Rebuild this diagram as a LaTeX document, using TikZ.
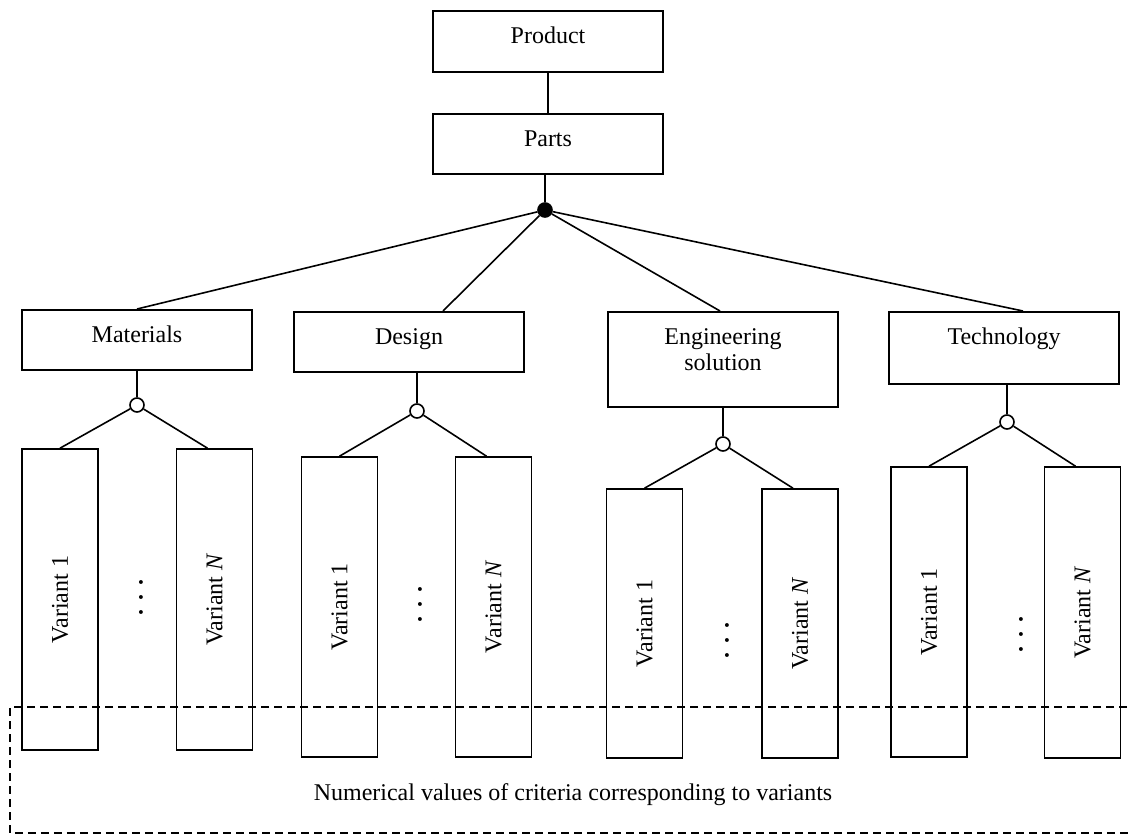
\documentclass[tikz,border=0pt]{standalone}
\usepackage{fontspec}
\setmainfont{Liberation Serif}
\usetikzlibrary{calc}

\begin{document}
\begin{tikzpicture}[
    x=0.5pt, y=-0.5pt, font=\fontsize{12}{13}\selectfont,
    blk/.style={draw, line width=0.8pt, anchor=north, minimum width=115pt,
                inner ysep=0pt, text height=16.5pt, text depth=13.5pt,
                align=center},
    var/.style={draw, line width=0.8pt, rotate=90, minimum height=38pt,
                inner sep=0pt},
    hub/.style={circle, draw, line width=0.8pt, fill=black, inner sep=0pt,
                minimum size=7pt},
    alt/.style={circle, draw, line width=0.8pt, fill=white, inner sep=0pt,
                minimum size=7pt},
    dots/.style={rotate=90, inner sep=0pt, font=\fontsize{12}{13}\selectfont\bfseries},
    lnk/.style={line width=0.8pt},
    crit/.style={dash pattern=on 4pt off 2.5pt, line width=0.7pt},
]

\useasboundingbox (0,0) rectangle (1130,835);

% ===========================================================================
% Product -> parts -> criteria groups
% ===========================================================================
\node[blk, text depth=14pt] (product) at (548,10) {Product};
\node[blk] (parts) at (548,113) {Parts};
\node[hub] (hub) at (545,210) {};

\node[blk] (mat) at (137,309) {Materials};
\node[blk] (des) at (409,311) {Design};
\node[blk, text height=29.5pt, text depth=18pt] (eng) at (723,311)
      {Engineering\\solution};
\node[blk, text depth=19.5pt] (tec) at (1004,311) {Technology};

\draw[lnk] (product.south) -- (parts.north);
\draw[lnk] (hub) -- (hub |- parts.south);
\draw[lnk] (hub) -- (mat.north);
\draw[lnk] (hub) -- ([xshift=17pt]des.north);
\draw[lnk] (hub) -- ([xshift=-1.5pt]eng.north);
\draw[lnk] (hub) -- ([xshift=9.5pt]tec.north);

% ----- alternatives of each group -----
\node[alt] (mc) at (137,405) {};
\node[alt] (dc) at (417,411) {};
\node[alt] (ec) at (723,444) {};
\node[alt] (tc) at (1007,422) {};

\draw[lnk] (mc) -- (mc |- mat.south);
\draw[lnk] (dc) -- (dc |- des.south);
\draw[lnk] (ec) -- (ec |- eng.south);
\draw[lnk] (tc) -- (tc |- tec.south);

% ===========================================================================
% Variants (rotated boxes: .east is the top edge)
% ===========================================================================
\node[var, minimum width=150.5pt] (m1) at (60,599.5) {Variant 1};
\node[var, minimum width=150.5pt] (mN) at (214.5,599.5) {Variant \textit{N}};
\node[dots] (md) at (141,597) {.\hspace{4.5pt}.\hspace{4.5pt}.};

\node[var, minimum width=150pt] (d1) at (339.5,607) {Variant 1};
\node[var, minimum width=150pt] (dN) at (493.5,607) {Variant \textit{N}};
\node[dots] (dd) at (420,604) {.\hspace{4.5pt}.\hspace{4.5pt}.};

\node[var, minimum width=134.5pt] (e1) at (644.5,623.5) {Variant 1};
\node[var, minimum width=134.5pt] (eN) at (800,623.5) {Variant \textit{N}};
\node[dots] (ed) at (727,640) {.\hspace{4.5pt}.\hspace{4.5pt}.};

\node[var, minimum width=145pt] (t1) at (929,612) {Variant 1};
\node[var, minimum width=145.5pt] (tN) at (1082.5,612.5) {Variant \textit{N}};
\node[dots] (td) at (1021,634) {.\hspace{4.5pt}.\hspace{4.5pt}.};

\foreach \c/\a/\b in {mc/m1/mN, dc/d1/dN, ec/e1/eN, tc/t1/tN} {
    \draw[lnk] (\c) -- (\a.east);
    \draw[lnk] (\c) -- ([xshift=-3.5pt]\b.east);
}

% ===========================================================================
% Criteria values (dashed frame runs off the right edge)
% ===========================================================================
\draw[crit] (1140,707) -- (10,707) -- (10,833) -- (1140,833);
\node[anchor=base] (vals) at (573,800)
      {Numerical values of criteria corresponding to variants};

\end{tikzpicture}
\end{document}
